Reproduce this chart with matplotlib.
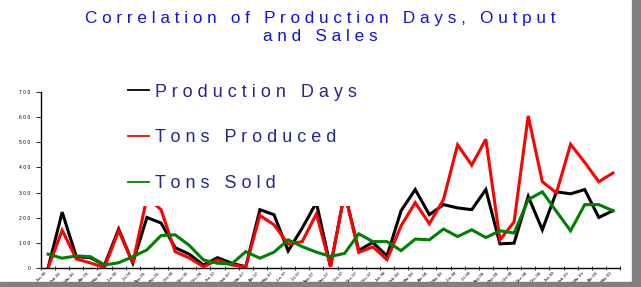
import matplotlib
matplotlib.use("Agg")
import matplotlib.pyplot as plt
from matplotlib.patches import Rectangle
from matplotlib.ticker import FixedLocator, FuncFormatter

plt.rcParams['font.family'] = ['Liberation Sans', 'DejaVu Sans']

months = ["Jan-96", "Feb-96", "Mar-96", "Apr-96", "May-96", "Jun-96", "Jul-96", "Aug-96",
          "Sep-96", "Oct-96", "Nov-96", "Dec-96",
          "Jan-97", "Feb-97", "Mar-97", "Apr-97", "May-97", "Jun-97", "Jul-97", "Aug-97",
          "Sep-97", "Oct-97", "Nov-97", "Dec-97",
          "Jan-98", "Feb-98", "Mar-98", "Apr-98", "May-98", "Jun-98", "Jul-98", "Aug-98",
          "Sep-98", "Oct-98", "Nov-98", "Dec-98",
          "Jan-99", "Feb-99", "Mar-99", "Apr-99", "May-99"]

production_days = [0, 222, 45, 41, 12, 155, 20, 201, 179, 81,
                   55, 12, 41, 19, 5, 232, 212, 68, 159, 260,
                   5, 300, 70, 102, 48, 228, 312, 212, 252, 239,
                   232, 312, 96, 99, 285, 152, 303, 295, 312, 201,
                   228]
tons_produced = [0, 150, 36, 20, 3, 148, 19, 280, 232, 65,
                 40, 5, 32, 12, 5, 209, 172, 95, 105, 215,
                 5, 300, 62, 84, 33, 168, 260, 176, 272, 490,
                 409, 512, 112, 183, 605, 343, 299, 492, 420, 343,
                 378]
tons_sold = [55, 39, 48, 45, 12, 21, 45, 72, 129, 132,
             90, 32, 19, 16, 65, 39, 63, 112, 85, 63,
             46, 58, 136, 105, 105, 69, 115, 112, 155, 125,
             152, 121, 148, 139, 272, 303, 225, 148, 252, 252,
             228]
y_ticks = [0, 100, 200, 300, 400, 500, 600, 700]

series_names = ["Production Days", "Tons Produced", "Tons Sold"]


def spaced(s):
    return "   ".join(" ".join(w) for w in s.split(" "))


fig = plt.figure(figsize=(6.41, 2.87), dpi=100)
fig.patch.set_facecolor('white')
ax = fig.add_axes([41 / 641, 19 / 287, 579 / 641, 176 / 287])

x = list(range(len(months)))
ax.plot(x, production_days, color='#000000', lw=2.2, solid_joinstyle='miter', label=spaced(series_names[0]))
ax.plot(x, tons_produced, color='#ff0000', lw=2.2, solid_joinstyle='miter', label=spaced(series_names[1]))
ax.plot(x, tons_sold, color='#008000', lw=2.2, solid_joinstyle='miter', label=spaced(series_names[2]))

ax.set_xlim(-0.5, len(months) - 0.5)
ax.set_ylim(0, 700)
for s in ['top', 'right']:
    ax.spines[s].set_visible(False)
for s in ['left', 'bottom']:
    ax.spines[s].set_linewidth(1.0)

ax.set_xticks(x)
ax.set_xticklabels(months, rotation=45, ha='right', fontsize=3.2)
ax.tick_params(axis='x', which='major', length=0, pad=2)
ax.xaxis.set_minor_locator(FixedLocator([i + 0.5 for i in range(-1, len(months))]))
ax.tick_params(axis='x', which='minor', length=2.5, width=0.6, direction='inout')

ax.set_yticks(y_ticks)
ax.yaxis.set_major_formatter(FuncFormatter(lambda v, p: " ".join(str(int(v)))))
ax.tick_params(axis='y', length=3.5, width=0.6, labelsize=3.6, pad=4)

leg = ax.legend(loc='upper left', bbox_to_anchor=(114 / 641, 1 - 70 / 287),
                bbox_transform=fig.transFigure, frameon=True, facecolor='white',
                edgecolor='none', framealpha=1, fancybox=False, fontsize=13,
                borderpad=0.75, labelspacing=1.6, handlelength=1.2,
                handletextpad=0.33, borderaxespad=0)
for t in leg.get_texts():
    t.set_color('#262690')
for h in leg.get_lines():
    h.set_linewidth(1.3)

fig.text(320 / 641, 1 - 11 / 287,
         spaced("Correlation of Production Days, Output") + "\n" + spaced("and Sales"),
         ha='center', va='top', fontsize=12.3, color='#1010e0',
         linespacing=1.27, multialignment='center')

fig.patches.append(Rectangle((632 / 641, 0), 9 / 641, 1, transform=fig.transFigure,
                             color='#808080', zorder=10))
fig.patches.append(Rectangle((0, 0), 1, 5 / 287, transform=fig.transFigure,
                             color='#808080', zorder=10))

fig.savefig('out.png', dpi=100)
